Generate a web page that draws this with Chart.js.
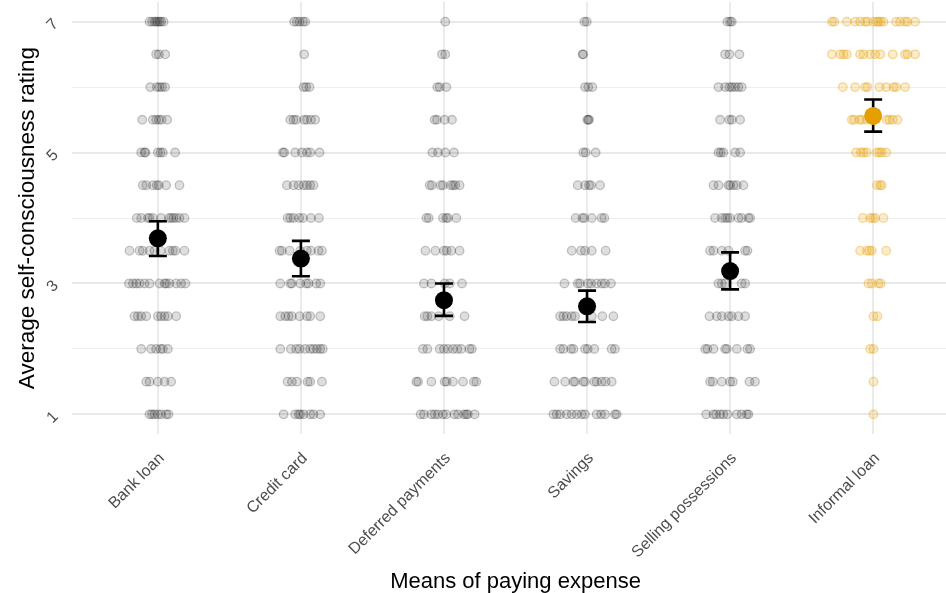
<!DOCTYPE html>
<html>
<head>
<meta charset="utf-8">
<script src="https://cdn.jsdelivr.net/npm/chart.js@4/dist/chart.umd.min.js"></script>
<style>
  html, body { margin: 0; padding: 0; background: #ffffff; overflow: hidden; }
  #wrap { width: 946px; height: 593px; overflow: hidden; }
</style>
</head>
<body>
<div id="wrap"><canvas id="chart" width="959" height="593"></canvas></div>
<script>
// Means of paying an expense and how self-conscious people felt about it
const categories = ['Bank loan', 'Credit card', 'Deferred payments', 'Savings', 'Selling possessions', 'Informal loan'];

// Rating levels that responses fall on (one row of jitter offsets per level)
const ratingLevels = [7, 6.5, 6, 5.5, 5, 4.5, 4, 3.5, 3, 2.5, 2, 1.5, 1];

// Horizontal jitter of each individual response, in category units
const bankLoanJitter = [
  [-0.058, -0.040, -0.023, -0.012, 0, 0.012, 0.023, 0.040],
  [-0.012, 0.007, 0.051],
  [-0.053, -0.007, 0.012, 0.030, 0.051],
  [-0.109, -0.035, -0.012, 0.007, 0.026, 0.065],
  [-0.116, -0.093, -0.086, 0, 0.019, 0.035, 0.121],
  [-0.105, -0.081, -0.035, -0.007, 0.007, 0.058, 0.151],
  [-0.147, -0.116, -0.070, -0.058, -0.035, 0.023, 0.077, 0.093, 0.109, 0.128, 0.151, 0.186],
  [-0.198, -0.128, -0.105, -0.058, -0.023, 0.019, 0.081, 0.105, 0.123, 0.186],
  [-0.202, -0.174, -0.151, -0.128, -0.093, -0.058, 0.012, 0.047, 0.058, 0.081, 0.128, 0.163, 0.193],
  [-0.163, -0.140, -0.116, -0.081, 0, 0.023, 0.047, 0.070, 0.128],
  [-0.116, -0.047, -0.012, 0.019, 0.035, 0.070],
  [-0.081, -0.058, 0, 0.047, 0.093],
  [-0.058, -0.040, -0.023, 0, 0.023, 0.058, 0.074]
];
const creditCardJitter = [
  [-0.047, -0.028, -0.009, 0.014, 0.030],
  [0.023],
  [0.019, 0.037, 0.060],
  [-0.074, -0.051, -0.033, 0.023, 0.042, 0.070, 0.100],
  [-0.126, -0.116, -0.040, 0.007, 0.042, 0.065, 0.130],
  [-0.098, -0.051, -0.016, 0.019, 0.042, 0.065, 0.088],
  [-0.093, -0.074, -0.051, -0.012, 0.014, 0.070, 0.126],
  [-0.149, -0.133, -0.079, -0.005, 0.042, 0.070, 0.123, 0.147],
  [-0.144, -0.074, -0.063, -0.005, 0.037, 0.053, 0.107, 0.135],
  [-0.144, -0.109, -0.086, -0.063, -0.009, 0.042, 0.065, 0.135],
  [-0.144, -0.070, -0.033, -0.009, 0.030, 0.065, 0.088, 0.112, 0.135, 0.153],
  [-0.093, -0.063, -0.028, 0.047, 0.065, 0.147],
  [-0.121, -0.040, -0.016, -0.005, 0.019, 0.065, 0.088, 0.135]
];
const deferredJitter = [
  [0.009],
  [-0.014, 0.009],
  [-0.047, -0.030, 0.016],
  [-0.065, -0.049, 0.005, 0.056],
  [-0.081, -0.042, 0.009, 0.070],
  [-0.100, -0.084, -0.023, -0.007, 0.047, 0.063, 0.079, 0.109],
  [-0.123, -0.107, -0.007, 0.016, 0.028, 0.086],
  [-0.130, -0.060, 0, 0.019, 0.051, 0.109],
  [-0.140, -0.088, 0.005, 0.040, 0.126],
  [-0.135, -0.116, -0.088, -0.037, 0.040, 0.144],
  [-0.147, -0.116, -0.030, 0, 0.028, 0.063, 0.093, 0.121, 0.179, 0.195],
  [-0.193, -0.181, -0.088, 0.005, 0.019, 0.063, 0.133, 0.209, 0.226],
  [-0.163, -0.140, -0.088, -0.065, -0.042, -0.007, 0.016, 0.074, 0.098, 0.140, 0.156, 0.167, 0.214]
];
const savingsJitter = [
  [-0.019, -0.002],
  [-0.030, -0.028],
  [-0.014, 0.009, 0.037],
  [0.002, 0.009, 0.014],
  [-0.026, -0.009, 0.060],
  [-0.065, -0.014, 0.014, 0.028, 0.091],
  [-0.079, -0.033, -0.019, 0.033, 0.102, 0.121],
  [-0.107, -0.042, -0.014, 0.033, 0.130],
  [-0.158, -0.065, -0.049, 0.005, 0.028, 0.067, 0.102, 0.126, 0.167],
  [-0.188, -0.165, -0.142, -0.107, -0.084, 0.033, 0.107, 0.184],
  [-0.188, -0.165, -0.112, -0.095, -0.014, 0.005, 0.051, 0.172, 0.195],
  [-0.228, -0.153, -0.095, -0.084, -0.026, -0.014, 0.051, 0.067, 0.102, 0.130, 0.172],
  [-0.235, -0.212, -0.188, -0.142, -0.107, -0.072, -0.037, -0.014, 0.067, 0.098, 0.126, 0.195, 0.207]
];
const sellingJitter = [
  [-0.019, 0, 0.012],
  [-0.035, -0.005, 0.065],
  [-0.081, -0.035, -0.005, 0.012, 0.035, 0.058, 0.081],
  [-0.070, -0.005, 0.012, 0.070],
  [-0.081, -0.065, -0.047, 0.035, 0.070],
  [-0.116, -0.081, -0.012, 0, 0.023, 0.047, 0.093],
  [-0.105, -0.058, -0.035, -0.019, 0, 0.058, 0.081, 0.128, 0.140],
  [-0.140, -0.116, -0.058, -0.012, 0.105, 0.121],
  [-0.081, -0.058, -0.035, 0.081, 0.105],
  [-0.144, -0.093, -0.058, -0.012, 0.012, 0.058, 0.105],
  [-0.174, -0.158, -0.116, -0.035, -0.023, 0.047, 0.121, 0.140],
  [-0.140, -0.121, -0.058, 0, 0.019, 0.135, 0.174],
  [-0.167, -0.116, -0.098, -0.070, -0.047, -0.019, 0.047, 0.081, 0.116, 0.128]
];
const informalJitter = [
  [-0.288, -0.272, -0.184, -0.126, -0.091, -0.056, -0.040, 0.002, 0.026, 0.037, 0.053, 0.072, 0.160, 0.188, 0.223, 0.240, 0.293],
  [-0.288, -0.230, -0.207, -0.184, -0.091, -0.067, -0.021, 0.014, 0.049, 0.137, 0.223, 0.240, 0.293],
  [-0.212, -0.126, -0.056, -0.040, 0.044, 0.091, 0.142, 0.160, 0.223],
  [-0.149, -0.133, -0.095, -0.079, -0.044, 0.095, 0.114, 0.137, 0.170],
  [-0.119, -0.086, -0.067, -0.044, 0.026, 0.044, 0.060, 0.091],
  [0.026, 0.049, 0.060],
  [-0.072, -0.021, -0.002, 0.014, 0.072],
  [-0.091, -0.044, -0.026, -0.009, 0.091],
  [-0.033, -0.009, 0.037, 0.053],
  [0.002, 0.030],
  [-0.021, 0.002],
  [0.002],
  [0.002]
];

// Group means with interval bounds
const meanRating = [3.69, 3.38, 2.745, 2.65, 3.19, 5.56];
const ciLower    = [3.42, 3.11, 2.505, 2.41, 2.91, 5.32];
const ciUpper    = [3.95, 3.65, 3.00, 2.89, 3.475, 5.81];

// Axis ticks
const yGridValues = [1, 2, 3, 4, 5, 6, 7];
const yLabelledValues = [1, 3, 5, 7];

const jitterByCategory = [bankLoanJitter, creditCardJitter, deferredJitter, savingsJitter, sellingJitter, informalJitter];
const highlightIndex = 5;
const ORANGE = '#E69F00';

function jitterPoints(rows, pos) {
  const pts = [];
  rows.forEach((offsets, r) => {
    offsets.forEach(o => pts.push({ x: pos + o, y: ratingLevels[r] }));
  });
  return pts;
}

const datasets = [{
  label: 'mean',
  order: 0,
  data: meanRating.map((m, i) => ({ x: i + 1, y: m })),
  pointRadius: 9,
  pointBorderWidth: 0,
  pointBackgroundColor: meanRating.map((_, i) => i === highlightIndex ? ORANGE : '#000000'),
  pointBorderColor: 'rgba(0,0,0,0)'
}];

jitterByCategory.forEach((rows, i) => {
  const hi = i === highlightIndex;
  datasets.push({
    label: categories[i],
    order: 1,
    data: jitterPoints(rows, i + 1),
    pointRadius: 4.3,
    pointBorderWidth: 1.3,
    pointBackgroundColor: hi ? 'rgba(230,159,0,0.20)' : 'rgba(0,0,0,0.13)',
    pointBorderColor: hi ? 'rgba(230,159,0,0.36)' : 'rgba(0,0,0,0.22)'
  });
});

// Interval whiskers, drawn just beneath the mean markers
const errorBars = {
  id: 'errorBars',
  beforeDatasetDraw(chart, args) {
    if (args.index !== 0) return;
    const { ctx, scales: { x, y } } = chart;
    ctx.save();
    ctx.strokeStyle = '#000000';
    ctx.lineWidth = 2.6;
    meanRating.forEach((m, i) => {
      const px = x.getPixelForValue(i + 1);
      const top = y.getPixelForValue(ciUpper[i]);
      const bot = y.getPixelForValue(ciLower[i]);
      ctx.beginPath();
      ctx.moveTo(px, top); ctx.lineTo(px, bot);
      ctx.moveTo(px - 9, top); ctx.lineTo(px + 9, top);
      ctx.moveTo(px - 9, bot); ctx.lineTo(px + 9, bot);
      ctx.stroke();
    });
    ctx.restore();
  }
};

const FONT = "'Liberation Sans', Arial, Helvetica, sans-serif";

new Chart(document.getElementById('chart'), {
  type: 'scatter',
  data: { datasets },
  plugins: [errorBars],
  options: {
    responsive: false,
    devicePixelRatio: 1,
    animation: false,
    events: [],
    layout: { autoPadding: false, padding: { top: 2, right: 0, bottom: 0, left: 0 } },
    plugins: { legend: { display: false }, tooltip: { enabled: false } },
    scales: {
      x: {
        type: 'linear',
        min: 0.4,
        max: 6.6,
        afterBuildTicks: s => { s.ticks = categories.map((_, i) => ({ value: i + 1 })); },
        afterFit: s => { s.height = 159; s.paddingLeft = 0; s.paddingRight = 0; },
        border: { display: false },
        grid: { color: '#ebebeb', lineWidth: 2, drawTicks: false },
        ticks: {
          autoSkip: false,
          minRotation: 45,
          maxRotation: 45,
          padding: 15,
          labelOffset: 4,
          color: '#4d4d4d',
          font: { family: FONT, size: 16 },
          callback: v => categories[Math.round(v) - 1]
        },
        title: {
          display: true,
          text: 'Means of paying expense',
          color: '#000000',
          font: { family: FONT, size: 22 },
          padding: { top: 0, bottom: -2 }
        }
      },
      y: {
        type: 'linear',
        min: 0.7,
        max: 7.3,
        afterBuildTicks: s => { s.ticks = yGridValues.map(v => ({ value: v })); },
        afterFit: s => { s.width = 72; s.paddingTop = 0; s.paddingBottom = 0; },
        border: { display: false },
        grid: {
          drawTicks: false,
          color: ctx => yLabelledValues.includes(ctx.tick && ctx.tick.value) ? '#e9e9e9' : '#efefef',
          lineWidth: ctx => yLabelledValues.includes(ctx.tick && ctx.tick.value) ? 2 : 1
        },
        ticks: {
          autoSkip: false,
          minRotation: 45,
          maxRotation: 45,
          padding: 16,
          color: '#4d4d4d',
          font: { family: FONT, size: 16 },
          callback: v => yLabelledValues.includes(v) ? String(v) : ''
        },
        title: {
          display: true,
          text: 'Average self-consciousness rating',
          color: '#000000',
          font: { family: FONT, size: 22.5 },
          padding: { top: 14, bottom: 0 }
        }
      }
    }
  }
});
</script>
</body>
</html>
